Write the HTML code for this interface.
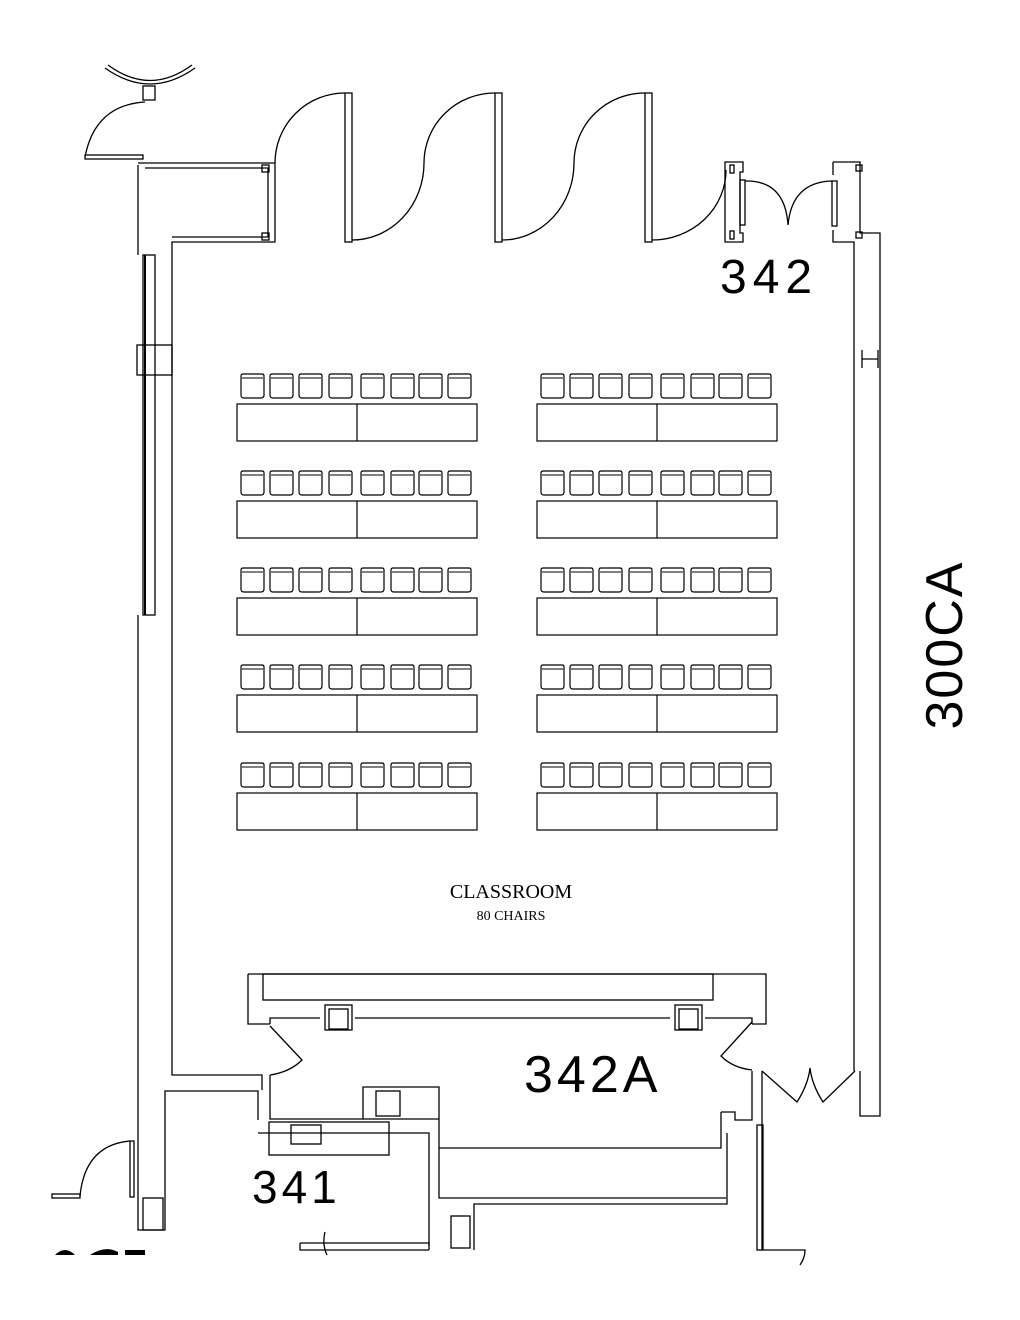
<!DOCTYPE html>
<html><head><meta charset="utf-8"><style>
html,body{margin:0;padding:0;background:#fff}
svg{display:block}
</style></head><body>
<svg width="1020" height="1320" viewBox="0 0 1020 1320" xmlns="http://www.w3.org/2000/svg">
<defs>
<g id="chair"><path d="M1 3 Q1 1 3 1 L22 1 Q24 1 24 3 L24 22 Q24 25 21 25 L4 25 Q1 25 1 22 Z" fill="none" stroke="#000" stroke-width="1.2"/><path d="M2 5 L23 5" stroke="#000" stroke-width="1"/></g>
<g id="row">
<use href="#chair" x="240" y="373"/><use href="#chair" x="269" y="373"/><use href="#chair" x="298" y="373"/><use href="#chair" x="328" y="373"/>
<use href="#chair" x="360" y="373"/><use href="#chair" x="390" y="373"/><use href="#chair" x="418" y="373"/><use href="#chair" x="447" y="373"/>
<rect x="237" y="404" width="240" height="37" fill="none" stroke="#000" stroke-width="1.2"/>
<line x1="357" y1="404" x2="357" y2="441" stroke="#000" stroke-width="1.2"/>
</g>
</defs>
<g fill="none" stroke="#000" stroke-width="1.3">
<use href="#row"/><use href="#row" y="97"/><use href="#row" y="194"/><use href="#row" y="291"/><use href="#row" y="389"/>
<use href="#row" x="300"/><use href="#row" x="300" y="97"/><use href="#row" x="300" y="194"/><use href="#row" x="300" y="291"/><use href="#row" x="300" y="389"/>

<path d="M105 68 Q150 100 195 68"/><path d="M108 65 Q150 96 192 65"/>
<rect x="143" y="86" width="12" height="14"/>
<path d="M85 157 Q95 105 145 102"/>
<rect x="85" y="155" width="58" height="4"/>
<path d="M138 165 L138 255 M138 163 L275 163 L275 242 L172 242 L172 1075 L262 1075 L262 1090"/>
<path d="M145 168 L268 168 L268 237 L172 237"/>
<rect x="262" y="165" width="7" height="7"/><rect x="262" y="233" width="7" height="7"/>
<rect x="143" y="255" width="12" height="360"/>
<line x1="145" y1="255" x2="145" y2="615" stroke-width="2"/>
<rect x="137" y="345" width="35" height="30"/>
<path d="M138 615 L138 1230 L165 1230 L165 1091 L258 1091 L258 1120"/>
<rect x="143" y="1198" width="20" height="32"/>
<path d="M80 1196 Q85 1145 130 1141"/>
<rect x="130" y="1141" width="4" height="56"/>
<rect x="52" y="1194" width="28" height="4"/>

<path d="M275 163 A70 70 0 0 1 345 93"/>
<rect x="345" y="93" width="7" height="149"/>
<path d="M352 240 A72 77 0 0 0 424 163 A71 70 0 0 1 495 93"/>
<rect x="495" y="93" width="7" height="149"/>
<path d="M502 240 A72 77 0 0 0 574 163 A71 70 0 0 1 645 93"/>
<rect x="645" y="93" width="7" height="149"/>
<path d="M652 240 A74 70 0 0 0 726 170"/>
<path d="M725 162 L743 162 L743 172 L740 172 L740 233 L743 233 L743 242 L725 242 Z"/>
<rect x="730" y="165" width="4" height="8"/><rect x="730" y="231" width="4" height="8"/>
<rect x="740" y="180" width="5" height="45"/>
<path d="M745 181 Q785 180 788 225 Q792 182 832 181"/>
<rect x="832" y="181" width="5" height="45"/>
<path d="M833 162 L860 162 L860 233 L880 233 L880 1116 L860 1116 L860 1071"/>
<path d="M833 162 L833 175 M833 230 L833 242 L854 242 L854 1071"/>
<rect x="856" y="165" width="6" height="6"/><rect x="856" y="232" width="6" height="6"/>
<path d="M862 350 L862 368 M878 350 L878 368 M862 359 L878 359"/>

<path d="M248 974 L766 974 L766 1024 L752 1024 M248 974 L248 1024 L270 1024"/>
<rect x="263" y="974" width="450" height="26"/>
<path d="M270 1024 L270 1018 L320 1018 M355 1018 L670 1018 M705 1018 L752 1018 L752 1024"/>
<rect x="325" y="1005" width="27" height="25"/><rect x="329" y="1009" width="19" height="20"/>
<rect x="675" y="1005" width="27" height="25"/><rect x="679" y="1009" width="19" height="20"/>
<path d="M270 1026 L302 1060 Q290 1072 270 1075"/>
<path d="M752 1022 L721 1056 Q733 1068 752 1070"/>
<path d="M270 1075 L270 1119 L363 1119 L363 1087 L439 1087 L439 1198 L726 1198"/>
<rect x="376" y="1091" width="24" height="25"/>
<path d="M363 1119 L439 1119"/>
<path d="M258 1133 L429 1133 L429 1246"/>
<rect x="269" y="1122" width="120" height="33"/>
<rect x="291" y="1125" width="30" height="19"/>
<path d="M439 1148 L721 1148 L721 1112 M721 1112 L735 1112 L735 1120 L752 1120 L752 1071"/>
<path d="M474 1250 L474 1204 L727 1204 L727 1133"/>
<rect x="451" y="1216" width="19" height="32"/>
<path d="M300 1243 L429 1243 L429 1250 M300 1243 L300 1250 L429 1250"/>
<path d="M325 1232 Q322 1245 327 1255"/>
<path d="M762 1071 L762 1250"/>
<rect x="757" y="1125" width="6" height="125"/>
<path d="M762 1071 L797 1102 Q808 1085 810 1068 Q812 1085 823 1102 L855 1071"/>
<path d="M762 1250 L805 1250 Q805 1258 800 1265"/>
</g>
<g font-family="'Liberation Sans', sans-serif" fill="#000">
<text x="720" y="293" font-size="48" letter-spacing="6">342</text>
<text x="524" y="1092" font-size="52" letter-spacing="4">342A</text>
<text x="252" y="1203" font-size="46" letter-spacing="4">341</text>
<text transform="translate(962,645) rotate(-90)" text-anchor="middle" font-size="52" letter-spacing="2">300CA</text>
</g>
<g font-family="'Liberation Serif', serif" fill="#000" text-anchor="middle">
<text x="511" y="898" font-size="20">CLASSROOM</text>
<text x="511" y="920" font-size="14">80 CHAIRS</text>
</g>
<path d="M55 1255 Q65 1245 75 1255 Z M90 1255 Q105 1245 118 1252 L118 1255 Z M125 1250 L145 1250 L145 1255 L125 1255 Z" fill="#000"/>
</svg>
</body></html>
